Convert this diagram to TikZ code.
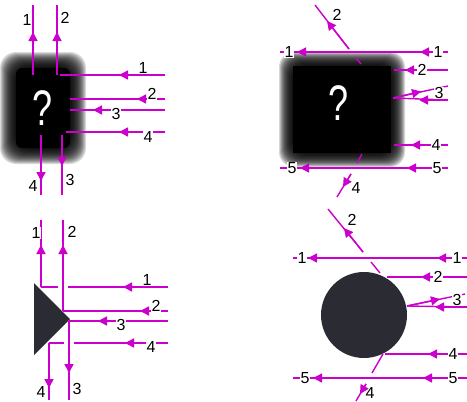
\documentclass[tikz,border=0pt]{standalone}
\usepackage{fontspec}
\setmainfont{Liberation Sans}
\usetikzlibrary{arrows.meta}
\definecolor{mag}{RGB}{204,0,204}
\definecolor{shapegray}{RGB}{43,43,51}
\newcommand\labfont{\fontsize{16}{16}\selectfont}
\newcommand\qfont{\fontsize{50}{50}\selectfont}
\newcommand\flowseg[3]{\draw[flowline] (#1) -- (#3); \draw[headed] (#1) -- (#2);}
\tikzset{
  flowline/.style={draw=mag, line width=1.4pt},
  headed/.style={flowline, -{Triangle[length=9pt,width=9pt]}},
  lab/.style={font=\labfont, fill=white, inner sep=0.6pt, text=black},
  qmark/.style={text=white, inner sep=0pt},
}
\begin{document}
\begin{tikzpicture}[x=1pt,y=-1pt]
\useasboundingbox (0,0) rectangle (467,402);
\fill[white] (0,0) rectangle (467,402);

% ---------- Panel A : blurred blob ----------
\foreach \i in {0,...,15}
  \fill[black, opacity=0.14, rounded corners=16pt] ({0+\i},{52+\i}) rectangle ({86-\i},{164-\i});
\fill[black, rounded corners=6pt] (16,68) rectangle (70,148);
\node[qmark] (aQ) at (43,108) {\scalebox{0.72}[1]{\qfont ?}};

\coordinate (aV1b) at (33,75); \coordinate (aV1h) at (33,32); \coordinate (aV1t) at (33,5);
\coordinate (aV2b) at (57,75); \coordinate (aV2h) at (57,32); \coordinate (aV2t) at (57,5);
\coordinate (aH1r) at (165,75); \coordinate (aH1h) at (119,75); \coordinate (aH1l) at (60,75);
\coordinate (aH2r) at (165,99); \coordinate (aH2h) at (137,99); \coordinate (aH2l) at (70,99);
\coordinate (aH3r) at (165,110); \coordinate (aH3h) at (93,110); \coordinate (aH3l) at (70,110);
\coordinate (aH4r) at (165,132); \coordinate (aH4h) at (119,132); \coordinate (aH4l) at (66,132);
\coordinate (aD4t) at (41,135); \coordinate (aD4h) at (41,181); \coordinate (aD4b) at (41,195);
\coordinate (aD3t) at (62,135); \coordinate (aD3h) at (62,166); \coordinate (aD3b) at (62,195);
\flowseg{aV1b}{aV1h}{aV1t}
\flowseg{aV2b}{aV2h}{aV2t}
\flowseg{aH1r}{aH1h}{aH1l}
\flowseg{aH2r}{aH2h}{aH2l}
\flowseg{aH3r}{aH3h}{aH3l}
\flowseg{aH4r}{aH4h}{aH4l}
\flowseg{aD4t}{aD4h}{aD4b}
\flowseg{aD3t}{aD3h}{aD3b}
\node[lab] (aL1) at (27,20) {1};
\node[lab] (aL2) at (65,18) {2};
\node[lab] (aLh1) at (143,68) {1};
\node[lab] (aLh2) at (152,94) {2};
\node[lab] (aLh3) at (116,114) {3};
\node[lab] (aLh4) at (148,137) {4};
\node[lab] (aLd4) at (33,186) {4};
\node[lab] (aLd3) at (70,180) {3};

% ---------- Panel C : triangle ----------
\fill[shapegray] (34,283) -- (34,355) -- (70,319) -- cycle;
\coordinate (cV1b) at (41,287); \coordinate (cV1h) at (41,245); \coordinate (cV1t) at (41,220);
\coordinate (cV2b) at (63,311); \coordinate (cV2h) at (63,245); \coordinate (cV2t) at (63,220);
\coordinate (cH1r) at (168,287); \coordinate (cH1h) at (123,287); \coordinate (cH1g) at (68,287);
\coordinate (cH1s) at (58,287);
\coordinate (cH2r) at (168,311); \coordinate (cH2h) at (140,311);
\coordinate (cH3r) at (168,321); \coordinate (cH3h) at (98,321); \coordinate (cH3l) at (69,321);
\coordinate (cH4r) at (168,343); \coordinate (cH4h) at (125,343); \coordinate (cH4g) at (74,343);
\coordinate (cH4s) at (64,343); \coordinate (cD4t) at (49,343);
\coordinate (cD4h) at (49,388); \coordinate (cD4b) at (49,400);
\coordinate (cD3h) at (69,373); \coordinate (cD3b) at (69,400);
\flowseg{cV1b}{cV1h}{cV1t}
\draw[flowline] (cH1s) -- (cV1b);
\flowseg{cV2b}{cV2h}{cV2t}
\flowseg{cH1r}{cH1h}{cH1g}
\flowseg{cH2r}{cH2h}{cV2b}
\flowseg{cH3r}{cH3h}{cH3l}
\flowseg{cH4r}{cH4h}{cH4g}
\draw[flowline] (cH4s) -- (cD4t);
\flowseg{cD4t}{cD4h}{cD4b}
\flowseg{cH3l}{cD3h}{cD3b}
\node[lab] (cL1) at (36,233) {1};
\node[lab] (cL2) at (72,232) {2};
\node[lab] (cLh1) at (147,280) {1};
\node[lab] (cLh2) at (156,306) {2};
\node[lab] (cLh3) at (121,325) {3};
\node[lab] (cLh4) at (151,347) {4};
\node[lab] (cLd4) at (41,392) {4};
\node[lab] (cLd3) at (77,389) {3};

% ---------- Panel B : blurred square ----------
\foreach \i in {0,...,13}
  \fill[black, opacity=0.16, rounded corners=15pt] ({279+\i},{52+\i}) rectangle ({405-\i},{167-\i});
\fill[black] (293,66) rectangle (391,153);
\node[qmark] (bQ) at (339,103) {\scalebox{0.72}[1]{\qfont ?}};

\coordinate (bH1r) at (448,52); \coordinate (bH1ha) at (420,52); \coordinate (bH1hb) at (297,52); \coordinate (bH1l) at (280,52);
\flowseg{bH1r}{bH1ha}{bH1l}
\draw[headed] (bH1ha) -- (bH1hb);
\coordinate (bD2s) at (361,64); \coordinate (bD2g1) at (356,58); \coordinate (bD2g2) at (349,49);
\coordinate (bD2h) at (327,21); \coordinate (bD2e) at (315,5);
\draw[flowline] (bD2s) -- (bD2g1);
\flowseg{bD2g2}{bD2h}{bD2e}
\coordinate (bH2r) at (448,70); \coordinate (bH2h) at (405,70); \coordinate (bH2l) at (394,70);
\flowseg{bH2r}{bH2h}{bH2l}
\coordinate (bH3s) at (393,98); \coordinate (bH3ah) at (421,91.5); \coordinate (bH3ae) at (448,86);
\flowseg{bH3s}{bH3ah}{bH3ae}
\coordinate (bH3r) at (448,100); \coordinate (bH3bh) at (419,100);
\flowseg{bH3r}{bH3bh}{bH3s}
\coordinate (bH4r) at (448,145); \coordinate (bH4h) at (411,145); \coordinate (bH4l) at (394,145);
\flowseg{bH4r}{bH4h}{bH4l}
\coordinate (bH5r) at (448,168); \coordinate (bH5ha) at (407,168); \coordinate (bH5hb) at (300,168); \coordinate (bH5l) at (280,168);
\flowseg{bH5r}{bH5ha}{bH5l}
\draw[headed] (bH5ha) -- (bH5hb);
\coordinate (bD4s) at (362,154); \coordinate (bD4g1) at (357,163); \coordinate (bD4g2) at (351,174);
\coordinate (bD4h) at (343,187); \coordinate (bD4e) at (337,197);
\draw[flowline] (bD4s) -- (bD4g1);
\flowseg{bD4g2}{bD4h}{bD4e}
\node[lab] (bLh1r) at (438,52) {1};
\node[lab] (bLh1l) at (289,52) {1};
\node[lab] (bLd2) at (337,15) {2};
\node[lab] (bLh2) at (422,70) {2};
\node[lab] (bLh3) at (439,93) {3};
\node[lab] (bLh4) at (436,145) {4};
\node[lab] (bLh5r) at (437,168) {5};
\node[lab] (bLh5l) at (292,168) {5};
\node[lab, fill=none] (bLd4) at (356,188) {4};

% ---------- Panel D : circle ----------
\fill[shapegray] (364,315) circle[radius=43];
\coordinate (dH1r) at (467,258); \coordinate (dH1ha) at (437,258); \coordinate (dH1hb) at (308,258); \coordinate (dH1l) at (293,258);
\flowseg{dH1r}{dH1ha}{dH1l}
\draw[headed] (dH1ha) -- (dH1hb);
\coordinate (dD2s) at (380,273); \coordinate (dD2g1) at (371,262); \coordinate (dD2g2) at (363,252);
\coordinate (dD2h) at (344,228); \coordinate (dD2e) at (328,209);
\draw[flowline] (dD2s) -- (dD2g1);
\flowseg{dD2g2}{dD2h}{dD2e}
\coordinate (dH2r) at (467,277); \coordinate (dH2h) at (421,277); \coordinate (dH2l) at (387,277);
\flowseg{dH2r}{dH2h}{dH2l}
\coordinate (dH3s) at (407,306); \coordinate (dH3ah) at (440,299); \coordinate (dH3ae) at (465,294);
\flowseg{dH3s}{dH3ah}{dH3ae}
\coordinate (dH3r) at (467,307); \coordinate (dH3bh) at (435,307);
\flowseg{dH3r}{dH3bh}{dH3s}
\coordinate (dH4r) at (467,354); \coordinate (dH4h) at (428,354); \coordinate (dH4l) at (385,354);
\flowseg{dH4r}{dH4h}{dH4l}
\coordinate (dH5r) at (467,378); \coordinate (dH5ha) at (423,378); \coordinate (dH5hb) at (313,378); \coordinate (dH5l) at (293,378);
\flowseg{dH5r}{dH5ha}{dH5l}
\draw[headed] (dH5ha) -- (dH5hb);
\coordinate (dD4s) at (383,354); \coordinate (dD4g1) at (372,373); \coordinate (dD4g2) at (366,384);
\coordinate (dD4h) at (360,394); \coordinate (dD4e) at (356,401);
\draw[flowline] (dD4s) -- (dD4g1);
\flowseg{dD4g2}{dD4h}{dD4e}
\node[lab] (dLh1r) at (457,258) {1};
\node[lab] (dLh1l) at (302,258) {1};
\node[lab] (dLd2) at (352,220) {2};
\node[lab] (dLh2) at (438,277) {2};
\node[lab] (dLh3) at (457,300) {3};
\node[lab] (dLh4) at (453,354) {4};
\node[lab] (dLh5r) at (453,378) {5};
\node[lab] (dLh5l) at (305,378) {5};
\node[lab, fill=none] (dLd4) at (370,393) {4};
\end{tikzpicture}
\end{document}
